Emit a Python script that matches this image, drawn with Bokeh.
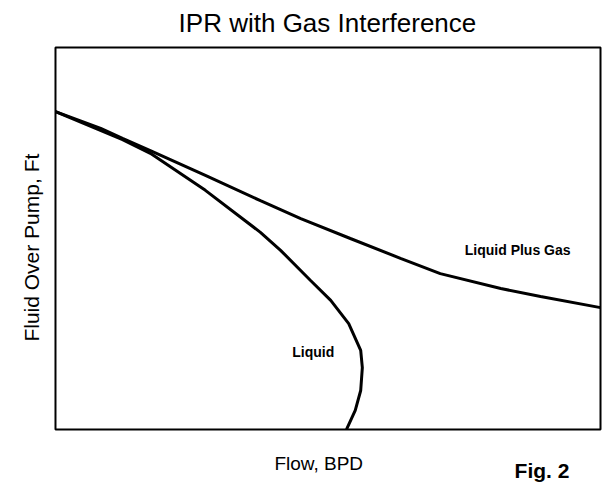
from bokeh.plotting import figure
from bokeh.models import Range1d, Label, BoxAnnotation
from bokeh.embed import file_html
from bokeh.resources import INLINE

# Data (arbitrary units: flow 0-100, fluid over pump 0-100)
gas_flow = [0, 8.3, 12.3, 17.4, 27.5, 37.6, 45.0, 54.1, 63.3, 70.6, 81.7, 89.0, 100]
gas_level = [83.2, 78.8, 76.2, 73.0, 66.5, 59.9, 55.2, 50.0, 44.8, 40.8, 36.9, 34.8, 31.9]

liq_flow = [0, 12.3, 17.4, 27.5, 37.6, 41.3, 46.8, 50.5, 53.8, 56.0, 56.3, 56.0, 55.0, 53.4]
liq_level = [83.2, 75.9, 72.3, 62.6, 51.6, 46.9, 39.0, 33.8, 27.7, 20.7, 16.2, 10.2, 5.0, 0]

title = "IPR with Gas Interference"
x_label = "Flow, BPD"
y_label = "Fluid Over Pump, Ft"
fig_label = "Fig. 2"

FONT = "Liberation Sans"

# canvas-wide frame; the axes box spans 0..100 on both scales
p = figure(width=609, height=488, output_backend="svg", toolbar_location=None,
           x_range=Range1d(-10.09, 101.65), y_range=Range1d(-15.45, 112.30),
           min_border=0)
p.axis.visible = False
p.grid.visible = False
p.outline_line_color = None
p.background_fill_color = "white"
p.border_fill_color = "white"

p.add_layout(BoxAnnotation(left=0, right=100, bottom=0, top=100, fill_alpha=0,
                           line_color="black", line_width=2, line_alpha=1.0))

p.line(gas_flow, gas_level, line_color="black", line_width=3)
p.line(liq_flow, liq_level, line_color="black", line_width=3)

def lab(x, y, t, size, bold=False, angle=0.0, align="center"):
    p.add_layout(Label(x=x, y=y, text=t, text_font=FONT, text_font_size=f"{size}px",
                       text_font_style="bold" if bold else "normal",
                       text_align=align, text_baseline="middle",
                       text_color="black", angle=angle))

lab(49.9, 106.5, title, 26)
lab(48.3, -8.9, x_label, 19)
lab(94.3, -10.7, fig_label, 21, bold=True, align="right")
lab(-4.4, 47.6, y_label, 21, angle=1.5708)
lab(84.8, 47.1, "Liquid Plus Gas", 14, bold=True)
lab(47.3, 20.4, "Liquid", 14, bold=True)

open("out.html", "w").write(file_html(p, INLINE))
